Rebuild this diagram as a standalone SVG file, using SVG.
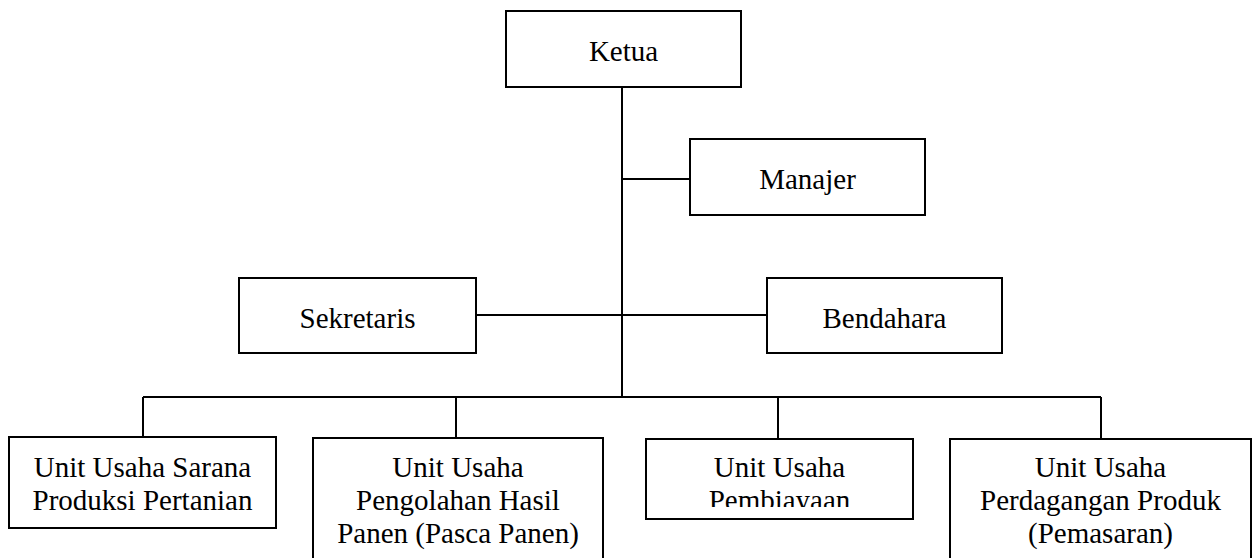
<svg xmlns="http://www.w3.org/2000/svg" width="1257" height="558" viewBox="0 0 1257 558">
<style>
.box{fill:#fff;stroke:#000;stroke-width:2}
.ln{stroke:#000;stroke-width:2;fill:none}
text{font-family:"Liberation Serif","Times New Roman","DejaVu Serif",serif;font-size:29px;fill:#000;text-anchor:middle}
</style>
<defs>
<clipPath id="clipPemb"><rect x="646" y="439" width="267" height="68"/></clipPath>
</defs>
<rect width="1257" height="558" fill="#fff"/>
<g id="connectors">
<path class="ln" d="M622 87V397"/>
<path class="ln" d="M622 179H690"/>
<path class="ln" d="M476 315H767"/>
<path class="ln" d="M143 397H1101"/>
<path class="ln" d="M143 397V437"/>
<path class="ln" d="M456 397V438"/>
<path class="ln" d="M778 397V439"/>
<path class="ln" d="M1101 397V439"/>
</g>
<g id="ketua">
<rect class="box" x="506" y="11" width="235" height="76"/>
<text x="623.5" y="61">Ketua</text>
</g>
<g id="manajer">
<rect class="box" x="690" y="139" width="235" height="76"/>
<text x="807.5" y="189">Manajer</text>
</g>
<g id="sekretaris">
<rect class="box" x="239" y="278" width="237" height="75"/>
<text x="357.5" y="328">Sekretaris</text>
</g>
<g id="bendahara">
<rect class="box" x="767" y="278" width="235" height="75"/>
<text x="884.5" y="328">Bendahara</text>
</g>
<g id="unit-sarana">
<rect class="box" x="9" y="437" width="267" height="91"/>
<text x="142.5" y="477">Unit Usaha Sarana</text>
<text x="142.5" y="510">Produksi Pertanian</text>
</g>
<g id="unit-pengolahan">
<rect class="box" x="313" y="438" width="290" height="130"/>
<text x="458" y="477">Unit Usaha</text>
<text x="458" y="510">Pengolahan Hasil</text>
<text x="458" y="543">Panen (Pasca Panen)</text>
</g>
<g id="unit-pembiayaan">
<rect class="box" x="646" y="439" width="267" height="80"/>
<text x="779.5" y="477">Unit Usaha</text>
<text x="779.5" y="510" clip-path="url(#clipPemb)">Pembiayaan</text>
</g>
<g id="unit-perdagangan">
<rect class="box" x="950" y="439" width="301" height="130"/>
<text x="1100.5" y="477">Unit Usaha</text>
<text x="1100.5" y="510">Perdagangan Produk</text>
<text x="1100.5" y="543">(Pemasaran)</text>
</g>
</svg>
